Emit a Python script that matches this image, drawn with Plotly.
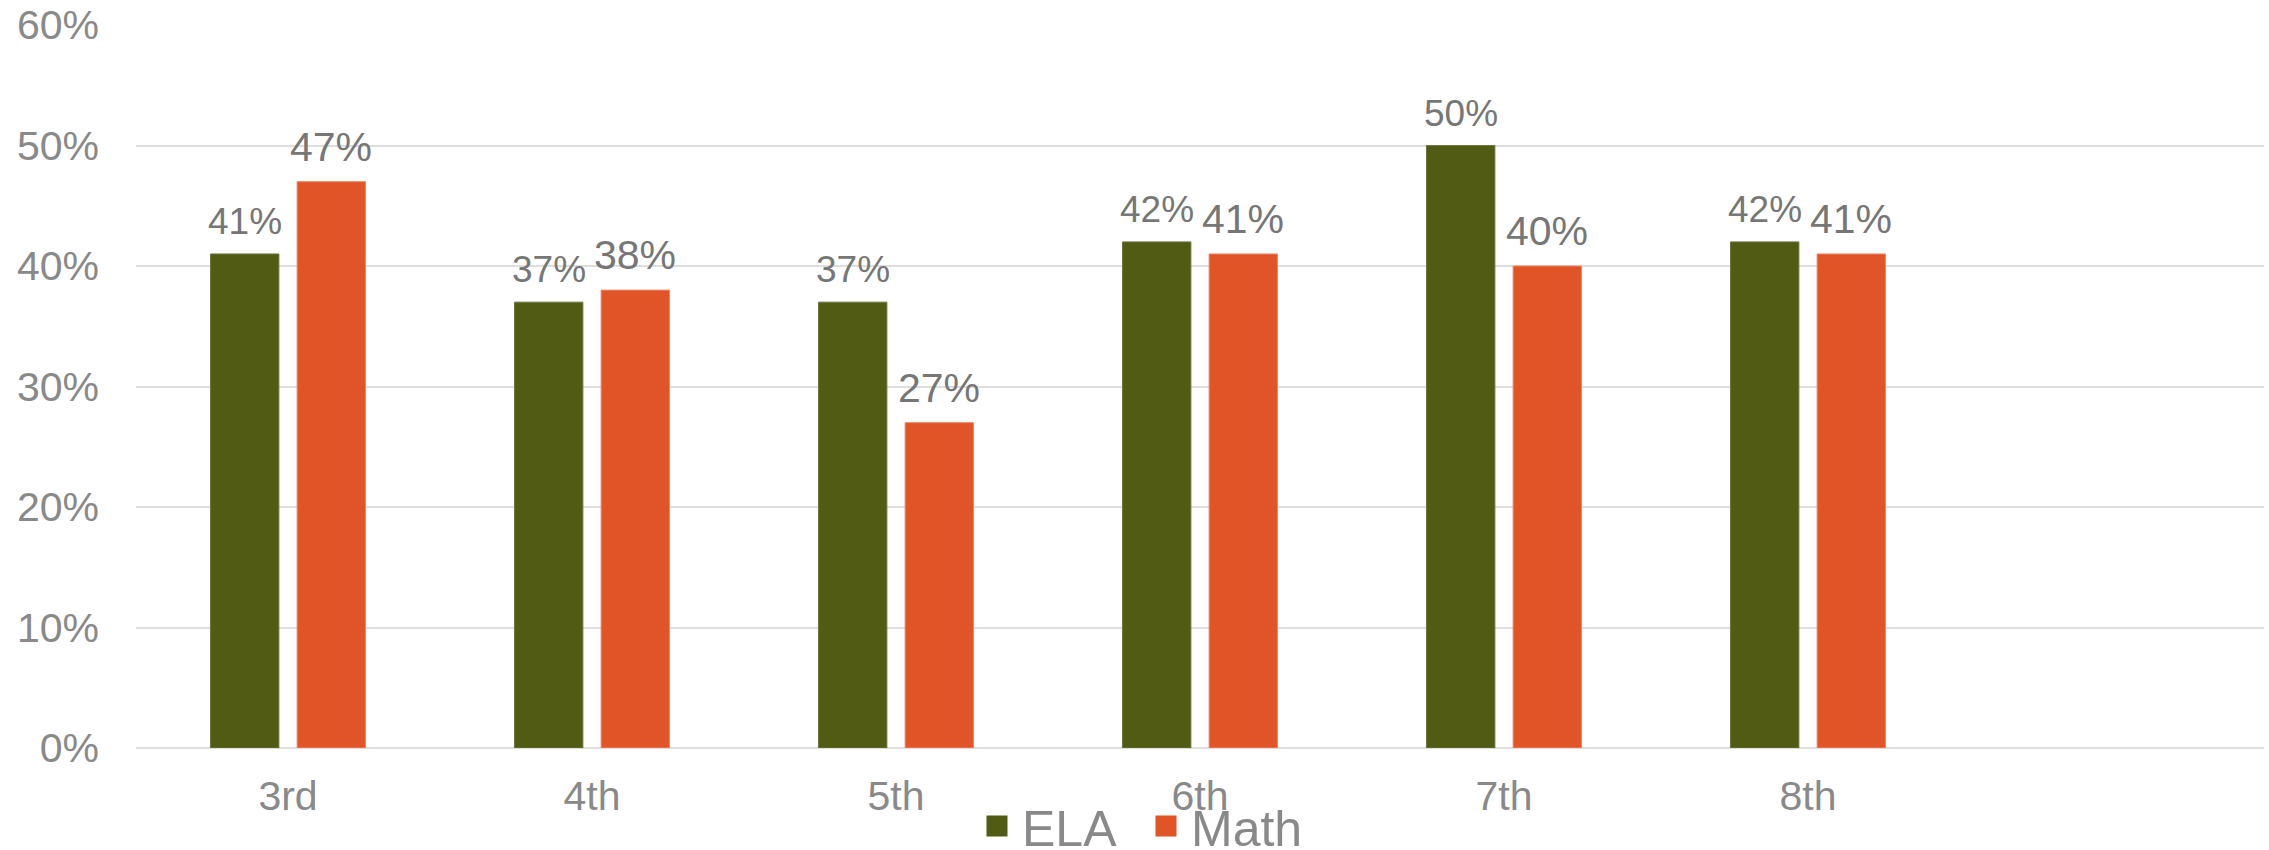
import plotly.graph_objects as go

grades = ["3rd", "4th", "5th", "6th", "7th", "8th"]
ela = [41, 37, 37, 42, 50, 42]
math = [47, 38, 27, 41, 40, 41]
y_ticks = [0, 10, 20, 30, 40, 50, 60]

ELA_COLOR = "#515b14"
MATH_COLOR = "#e05427"
FONT = "Liberation Sans, Arial, sans-serif"
LABEL_COLOR = "#767676"

W, H = 2269, 850
ML, MR, MT, MB = 136, 5, 25, 102
N_SLOTS = 7  # six grades plus one empty slot on the right
BARGAP = 0.43
slot_px = (W - ML - MR) / N_SLOTS
half_px = (1 - BARGAP) * slot_px / 4  # distance from category centre to each bar centre

fig = go.Figure()
fig.add_trace(go.Bar(
    x=grades, y=ela, name="ELA", marker=dict(color=ELA_COLOR, line=dict(color="#6f7640", width=1)),
    showlegend=False, cliponaxis=False,
))
fig.add_trace(go.Bar(
    x=grades, y=math, name="Math", marker=dict(color=MATH_COLOR, line=dict(color="#ec8a6a", width=1)),
    showlegend=False, cliponaxis=False,
))
# legend entries
fig.add_trace(go.Scatter(x=[None], y=[None], mode="markers", name="ELA",
                         marker=dict(symbol="square", size=16, color=ELA_COLOR,
                                     line=dict(color=ELA_COLOR, width=5))))
fig.add_trace(go.Scatter(x=[None], y=[None], mode="markers", name="Math",
                         marker=dict(symbol="square", size=16, color=MATH_COLOR,
                                     line=dict(color=MATH_COLOR, width=5))))

annotations = []
for g, v in zip(grades, ela):
    annotations.append(dict(x=g, y=v, xref="x", yref="y", text=f"{v}%", showarrow=False,
                            xshift=-half_px, yshift=10, yanchor="bottom",
                            font=dict(family=FONT, size=37, color=LABEL_COLOR)))
for g, v in zip(grades, math):
    annotations.append(dict(x=g, y=v, xref="x", yref="y", text=f"{v}%", showarrow=False,
                            xshift=half_px, yshift=10, yanchor="bottom",
                            font=dict(family=FONT, size=41, color=LABEL_COLOR)))

fig.update_layout(
    width=W, height=H,
    margin=dict(l=ML, r=MR, t=MT, b=MB, autoexpand=False),
    paper_bgcolor="white", plot_bgcolor="white",
    barmode="group", bargap=BARGAP, bargroupgap=0.21,
    font=dict(family=FONT, color="#898989"),
    annotations=annotations,
    legend=dict(orientation="h", x=(972 - ML) / (W - ML - MR), xanchor="left",
                y=-0.108, yanchor="middle", itemwidth=40, entrywidth=114,
                font=dict(size=50, color="#898989"), itemsizing="trace",
                bgcolor="rgba(0,0,0,0)"),
    xaxis=dict(type="category", categoryorder="array", categoryarray=grades,
               range=[-0.5, N_SLOTS - 0.5], showgrid=False, showline=False, zeroline=False,
               automargin=False,
               tickfont=dict(size=41, color="#898989"), ticklabelstandoff=20),
    yaxis=dict(range=[0, 60], tickvals=y_ticks, ticktext=[f"{v}%" for v in y_ticks],
               showgrid=True, gridcolor="#dedede", gridwidth=1.5,
               zeroline=True, zerolinecolor="#dedede", zerolinewidth=1.5,
               showline=False, automargin=False, tickfont=dict(size=41, color="#898989"),
               ticklabelstandoff=36),
)

fig.write_html("out.html")
